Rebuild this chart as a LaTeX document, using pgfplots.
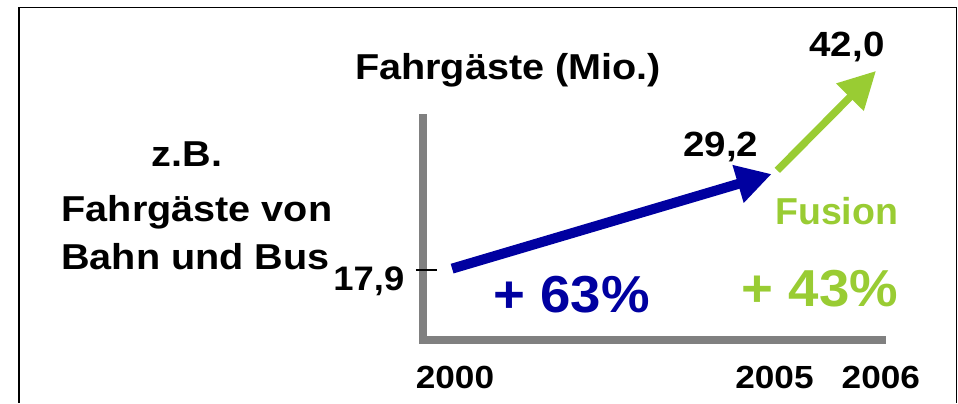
\documentclass[border=0pt]{standalone}
\usepackage{pgfplots}
\pgfplotsset{compat=1.18}
\usetikzlibrary{arrows.meta}
\usepackage{fontspec}
\setmainfont{Liberation Sans}
\definecolor{cblue}{RGB}{0,0,160}
\definecolor{cgreen}{RGB}{153,204,51}
\definecolor{cgray}{RGB}{128,128,128}
\newcommand{\fs}[1]{\fontsize{#1}{#1}\selectfont\bfseries}
\pgfplotsset{
  layers/ticksontop/.define layer set={
    axis background,axis grid,axis lines,axis ticks,axis tick labels,
    main,axis descriptions,axis foreground
  }{/pgfplots/layers/standard},
}
\begin{document}
\begin{tikzpicture}[x=1pt,y=1pt]
\path (0,0) rectangle (958,403);
\draw[line width=1.6pt] (19,0) -- (19,395.5) -- (956.5,395.5) -- (956.5,0);
\begin{axis}[
  set layers=ticksontop,
  at={(423.3pt,62.8pt)}, anchor=south west,
  scale only axis, width=458.7pt, height=222.2pt,
  xmin=-0.0992, xmax=1.3365, ymin=9.25, ymax=35.79,
  axis lines=left,
  axis line style={-, cgray, line width=8pt, line cap=rect},
  xtick={0,1,1.333}, xticklabels={2000,2005,2006},
  ytick={17.9}, yticklabels={17{,}9},
  tick align=center, major tick length=21pt,
  x tick style={draw=none},
  y tick style={black, line width=2pt, xshift=3pt, yshift=-2pt},
  xticklabel style={font=\fs{32}, xscale=1.1, inner sep=0pt, anchor=base, yshift=-37.8pt},
  yticklabel style={font=\fs{34}, xscale=1.07, inner sep=0pt, anchor=base east, xshift=-7.8pt, yshift=-22.9pt},
  clip=false,
]
\addplot[cblue, line width=10pt, -{Triangle[length=35pt,width=37pt]}, shorten <=-3pt, shorten >=3pt] coordinates {(0,17.9) (1,29.2)};
\addplot[cgreen, line width=7.5pt, -{Triangle[length=37pt,width=37pt]}, shorten <=4pt, shorten >=7pt] coordinates {(1,29.2) (1.333,42.0)};
\end{axis}
\node[anchor=base, inner sep=0pt, xscale=1.1] at (508,323.7) {\fs{36}Fahrgäste (Mio.)};
\node[anchor=base, inner sep=0pt, xscale=1.1] at (187,236) {\fs{36}z.B.};
\node[anchor=base, inner sep=0pt, xscale=1.1] at (197,181) {\fs{36}Fahrgäste von};
\node[anchor=base, inner sep=0pt, xscale=1.1] at (195.5,133) {\fs{36}Bahn und Bus};
\node[anchor=base, inner sep=0pt, xscale=1.1] at (847,346.5) {\fs{35}42,0};
\node[anchor=base, inner sep=0pt, xscale=1.1] at (720.8,246.3) {\fs{35}29,2};
\node[anchor=base, inner sep=0pt, text=cgreen] at (836.7,178.7) {\fs{37.5}Fusion};
\node[anchor=base, inner sep=0pt, text=cblue, xscale=1.05] at (571.5,90.3) {\fs{52}+ 63\%};
\node[anchor=base, inner sep=0pt, text=cgreen, xscale=1.05] at (820,96.3) {\fs{52}+ 43\%};
\end{tikzpicture}
\end{document}
